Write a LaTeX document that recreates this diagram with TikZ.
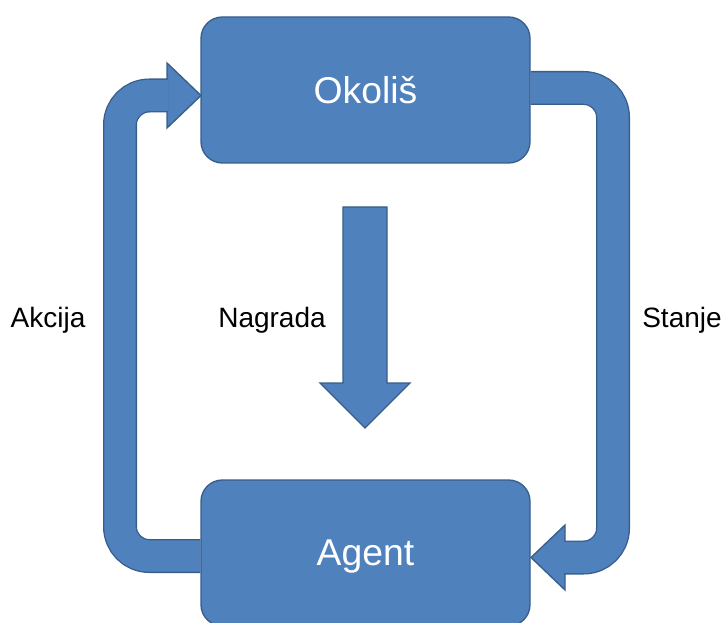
\documentclass[tikz,border=0pt]{standalone}
\usepackage{fontspec}
\setmainfont{Liberation Sans}
\definecolor{shapeblue}{HTML}{4F81BD}
\definecolor{shapeedge}{HTML}{385D8A}

\begin{document}
\begin{tikzpicture}[x=0.75pt,y=-0.75pt,
  unitbox/.style={draw=shapeedge,fill=shapeblue,line width=1pt,rounded corners=16pt,
    minimum width=246.75pt,minimum height=109.5pt,inner sep=0pt,text depth=0pt,
    text=white,font=\fontsize{28}{34}\selectfont},
  band/.style={shapeedge,line width=1pt,double=shapeblue,double distance=23.5pt,rounded corners=22pt},
  head/.style={draw=shapeedge,fill=shapeblue,line width=1pt,line join=miter},
  caption/.style={font=\fontsize{21}{25}\selectfont}]
\useasboundingbox (0,0) rectangle (724,623);
\node[unitbox] (okolis) at (365.5,90) {Okoliš};
\node[unitbox] (agent) at (365.5,553) {Agent};
% akcija: agent -> okolis
\draw[head] (167,63) -- (201,95.5) -- (167,128) -- cycle;
\draw[band] ([yshift=-2.25pt]agent.west) -| (120,95.5) -- (168,95.5);
% stanje: okolis -> agent
\draw[head] (565,525) -- (531,557.5) -- (565,590) -- cycle;
\draw[band] ([yshift=1.5pt]okolis.east) -| (613,557.5) -- (564,557.5);
% nagrada
\draw[head] (343,207) -- (387,207) -- (387,383) -- (410,383) -- (365,428)
  -- (320,383) -- (343,383) -- cycle;
\node[caption] (akcija) at (48,320) {Akcija};
\node[caption] (nagrada) at (272,320) {Nagrada};
\node[caption] (stanje) at (682,320) {Stanje};
\end{tikzpicture}
\end{document}
